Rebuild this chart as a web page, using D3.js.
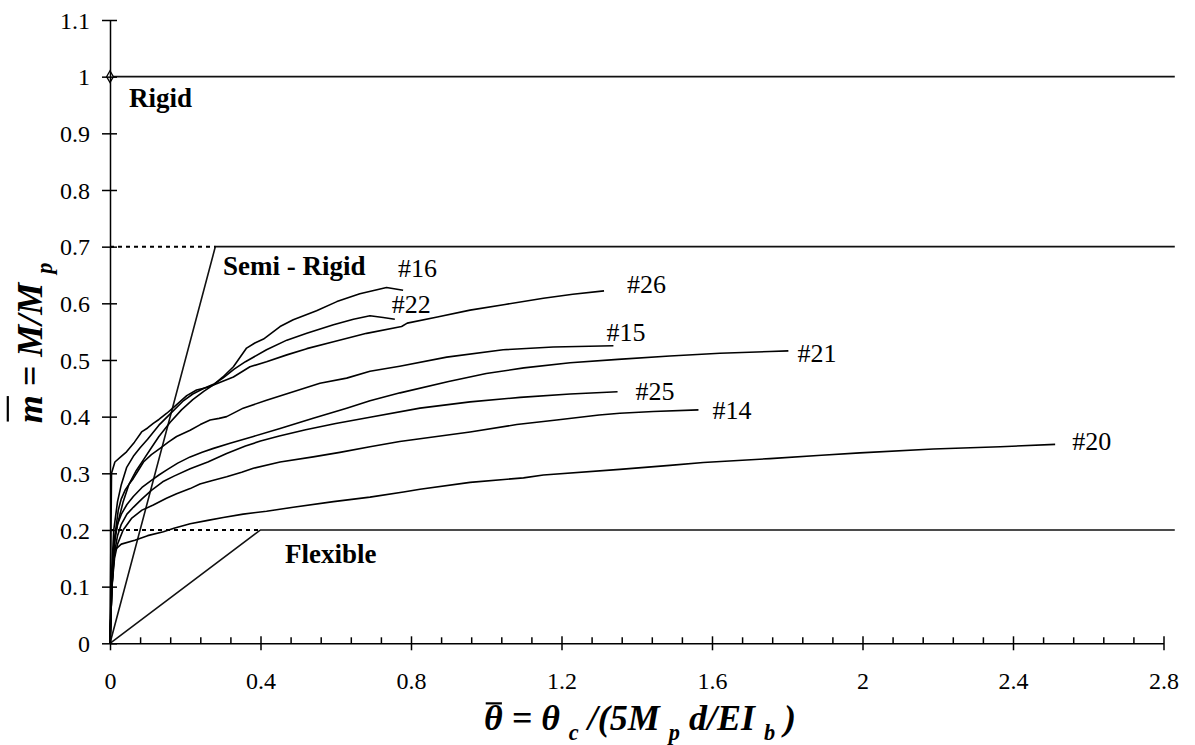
<!DOCTYPE html>
<html>
<head>
<meta charset="utf-8">
<script src="https://cdn.jsdelivr.net/npm/d3@7"></script>
<style>
  html, body { margin: 0; padding: 0; background: #fff; }
  svg { display: block; }
  text { font-family: "Liberation Serif", "Times New Roman", serif; fill: #000; }
</style>
</head>
<body>
<svg id="chart" width="1195" height="745"></svg>
<script>
// Normalised moment-rotation curves of the tested connections.
const xTicks = [0, 0.4, 0.8, 1.2, 1.6, 2, 2.4, 2.8];
const xTickLabels = ["0", "0.4", "0.8", "1.2", "1.6", "2", "2.4", "2.8"];
const xMinorStep = 0.08;
const yTicks = [0, 0.1, 0.2, 0.3, 0.4, 0.5, 0.6, 0.7, 0.8, 0.9, 1, 1.1];
const yTickLabels = ["0", "0.1", "0.2", "0.3", "0.4", "0.5", "0.6", "0.7", "0.8", "0.9", "1", "1.1"];

const seriesNames = ["#16", "#22", "#26", "#15", "#21", "#25", "#14", "#20"];

const theta16 = [0, 0.004, 0.01, 0.02, 0.035, 0.05, 0.07, 0.09, 0.11, 0.13, 0.16, 0.19, 0.22, 0.25, 0.275, 0.30, 0.328, 0.363, 0.385, 0.408, 0.452, 0.487, 0.549, 0.603, 0.664, 0.735, 0.779];
const m16     = [0, 0.10, 0.17, 0.21, 0.25, 0.28, 0.305, 0.325, 0.345, 0.365, 0.39, 0.412, 0.43, 0.445, 0.456, 0.47, 0.488, 0.521, 0.530, 0.537, 0.559, 0.571, 0.587, 0.603, 0.617, 0.628, 0.623];

const theta22 = [0, 0.004, 0.01, 0.02, 0.03, 0.044, 0.062, 0.08, 0.10, 0.13, 0.16, 0.195, 0.22, 0.25, 0.275, 0.30, 0.33, 0.36, 0.416, 0.47, 0.523, 0.594, 0.647, 0.691, 0.726, 0.757];
const m22     = [0, 0.12, 0.20, 0.25, 0.28, 0.31, 0.33, 0.345, 0.36, 0.385, 0.405, 0.428, 0.44, 0.45, 0.457, 0.468, 0.484, 0.497, 0.518, 0.535, 0.547, 0.562, 0.572, 0.578, 0.575, 0.572];

const theta26 = [0, 0.002, 0.004, 0.013, 0.03, 0.044, 0.065, 0.084, 0.10, 0.115, 0.13, 0.151, 0.175, 0.204, 0.23, 0.26, 0.275, 0.328, 0.372, 0.416, 0.47, 0.523, 0.594, 0.682, 0.775, 0.79, 0.87, 0.957, 1.05, 1.152, 1.23, 1.313];
const m26     = [0, 0.15, 0.30, 0.32, 0.33, 0.338, 0.355, 0.373, 0.38, 0.388, 0.395, 0.406, 0.42, 0.437, 0.447, 0.452, 0.456, 0.47, 0.488, 0.497, 0.509, 0.52, 0.532, 0.547, 0.559, 0.565, 0.576, 0.588, 0.598, 0.609, 0.616, 0.622];

const theta15 = [0, 0.005, 0.009, 0.015, 0.022, 0.03, 0.04, 0.05, 0.062, 0.075, 0.089, 0.11, 0.133, 0.155, 0.177, 0.213, 0.24, 0.266, 0.29, 0.31, 0.354, 0.416, 0.487, 0.558, 0.629, 0.691, 0.77, 0.895, 1.045, 1.178, 1.338];
const m15     = [0, 0.10, 0.165, 0.20, 0.235, 0.255, 0.27, 0.28, 0.291, 0.305, 0.32, 0.333, 0.344, 0.355, 0.365, 0.376, 0.386, 0.394, 0.397, 0.40, 0.415, 0.429, 0.444, 0.459, 0.468, 0.48, 0.489, 0.505, 0.518, 0.523, 0.525];

const theta21 = [0, 0.005, 0.013, 0.02, 0.031, 0.045, 0.062, 0.085, 0.111, 0.13, 0.151, 0.18, 0.213, 0.245, 0.275, 0.319, 0.381, 0.452, 0.54, 0.629, 0.691, 0.771, 0.9, 1.0, 1.1, 1.223, 1.35, 1.488, 1.621, 1.754, 1.803];
const m21     = [0, 0.10, 0.188, 0.21, 0.229, 0.245, 0.259, 0.275, 0.288, 0.297, 0.306, 0.318, 0.329, 0.337, 0.344, 0.353, 0.365, 0.379, 0.397, 0.415, 0.428, 0.442, 0.462, 0.476, 0.486, 0.495, 0.501, 0.507, 0.512, 0.515, 0.516];

const theta25 = [0, 0.005, 0.012, 0.02, 0.03, 0.045, 0.062, 0.085, 0.11, 0.14, 0.17, 0.213, 0.26, 0.31, 0.36, 0.40, 0.45, 0.52, 0.60, 0.691, 0.824, 0.957, 1.09, 1.223, 1.349];
const m25     = [0, 0.10, 0.16, 0.19, 0.21, 0.228, 0.24, 0.255, 0.27, 0.285, 0.295, 0.308, 0.32, 0.335, 0.348, 0.357, 0.366, 0.377, 0.388, 0.399, 0.415, 0.426, 0.434, 0.44, 0.444];

const theta14 = [0, 0.005, 0.012, 0.02, 0.035, 0.058, 0.085, 0.115, 0.15, 0.177, 0.213, 0.239, 0.27, 0.31, 0.35, 0.381, 0.452, 0.54, 0.611, 0.691, 0.77, 0.824, 0.957, 1.081, 1.187, 1.30, 1.355, 1.444, 1.564];
const m14     = [0, 0.10, 0.15, 0.175, 0.20, 0.221, 0.235, 0.244, 0.256, 0.264, 0.273, 0.281, 0.287, 0.294, 0.302, 0.309, 0.32, 0.329, 0.337, 0.347, 0.356, 0.361, 0.373, 0.386, 0.394, 0.403, 0.406, 0.409, 0.412];

const theta20 = [0, 0.004, 0.008, 0.013, 0.03, 0.066, 0.10, 0.142, 0.17, 0.213, 0.26, 0.301, 0.354, 0.416, 0.487, 0.594, 0.691, 0.78, 0.824, 0.957, 1.099, 1.152, 1.355, 1.488, 1.577, 1.754, 1.891, 1.993, 2.188, 2.366, 2.512];
const m20     = [0, 0.08, 0.13, 0.165, 0.175, 0.182, 0.19, 0.197, 0.203, 0.211, 0.217, 0.222, 0.228, 0.233, 0.24, 0.25, 0.258, 0.267, 0.272, 0.284, 0.292, 0.297, 0.307, 0.314, 0.319, 0.326, 0.332, 0.336, 0.343, 0.347, 0.351];

const seriesTheta = [theta16, theta22, theta26, theta15, theta21, theta25, theta14, theta20];
const seriesM = [m16, m22, m26, m15, m21, m25, m14, m20];

// Classification boundaries (EC3-type zones)
const rigidM = 1.0;
const semiRigidM = 0.7, semiRigidTheta = 0.28;
const flexibleM = 0.2, flexibleTheta = 0.4;
const boundaryEnd = 2.83;
const zoneNames = ["Rigid", "Semi - Rigid", "Flexible"];

// ---- layout ----
const svg = d3.select("#chart");
const x = d3.scaleLinear().domain([0, 2.8]).range([110, 1163.5]);
const y = d3.scaleLinear().domain([0, 1.1]).range([643.3, 20]);
const serif = '"Liberation Serif", "Times New Roman", serif';
const tickFont = 24, labelFont = 26, zoneFont = 27, titleFont = 36;

// boundary lines
const bnd = svg.append("g").attr("fill", "none");
const solid = (pts, w) => bnd.append("path")
  .attr("d", d3.line().x(d => x(d[0])).y(d => y(d[1]))(pts))
  .attr("stroke", "#111").attr("stroke-width", w);
const dashed = (pts) => bnd.append("path")
  .attr("d", d3.line().x(d => x(d[0])).y(d => y(d[1]))(pts))
  .attr("stroke", "#000").attr("stroke-width", 2).attr("stroke-dasharray", "4,4");

solid([[0, rigidM], [boundaryEnd, rigidM]], 1.8);
solid([[0, 0], [semiRigidTheta, semiRigidM], [boundaryEnd, semiRigidM]], 1.6);
solid([[0, 0], [flexibleTheta, flexibleM], [boundaryEnd, flexibleM]], 1.6);
dashed([[0, semiRigidM], [semiRigidTheta, semiRigidM]]);
dashed([[0, flexibleM], [flexibleTheta, flexibleM]]);

// curves
const line = d3.line().x(d => x(d[0])).y(d => y(d[1]));
const curves = svg.append("g").attr("fill", "none").attr("stroke", "#000")
  .attr("stroke-width", 1.6).attr("stroke-linejoin", "round");
seriesNames.forEach((name, i) => {
  const pts = seriesTheta[i].map((t, j) => [t, seriesM[i][j]]);
  curves.append("path").attr("d", line(pts));
});

// curve end labels, offset from each curve's last point (px)
const labelOffset = {
  "#16": [-5, -13], "#22": [-3, -6], "#26": [23, 2], "#15": [-7, -5],
  "#21": [9, 11], "#25": [18, 8], "#14": [14, 9], "#20": [17, 6]
};
seriesNames.forEach((name, i) => {
  const t = seriesTheta[i], m = seriesM[i];
  const n = t.length - 1;
  svg.append("text")
    .attr("x", x(t[n]) + labelOffset[name][0])
    .attr("y", y(m[n]) + labelOffset[name][1])
    .style("font-size", labelFont + "px")
    .text(name);
});

// zone labels
const zonePos = [[129, 107], [223, 275], [285, 563]];
zoneNames.forEach((z, i) => {
  svg.append("text").attr("x", zonePos[i][0]).attr("y", zonePos[i][1])
    .style("font-size", zoneFont + "px").attr("font-weight", "bold").text(z);
});

// marker at the rigid limit on the axis
svg.append("path")
  .attr("transform", `translate(${x(0)},${y(rigidM)})`)
  .attr("d", d3.symbol(d3.symbolDiamond, 40)())
  .attr("fill", "#fff").attr("stroke", "#000").attr("stroke-width", 1.3);

// ---- axes ----
const xMinor = d3.range(0, 2.8 + 1e-9, xMinorStep)
  .filter(v => !xTicks.some(t => Math.abs(t - v) < 1e-6));

const xAxisMinor = svg.append("g").attr("transform", `translate(0,${y(0)})`)
  .call(d3.axisBottom(x).tickValues(xMinor).tickSize(-6).tickSizeOuter(0).tickFormat(""));
xAxisMinor.select(".domain").remove();

const xAxis = svg.append("g").attr("transform", `translate(0,${y(0)})`)
  .call(d3.axisBottom(x).tickValues(xTicks).tickSizeOuter(0)
    .tickFormat((d, i) => xTickLabels[i]));
xAxis.selectAll(".tick line").attr("y1", -7).attr("y2", 7);
xAxis.selectAll(".tick text").attr("y", 46).attr("dy", 0);

const yAxis = svg.append("g").attr("transform", `translate(${x(0)},0)`)
  .call(d3.axisLeft(y).tickValues(yTicks).tickSizeOuter(0)
    .tickFormat((d, i) => yTickLabels[i]));
yAxis.selectAll(".tick line").attr("x1", -8).attr("x2", 7);
yAxis.selectAll(".tick text").attr("x", -20).attr("dy", "0.34em");

[xAxisMinor, xAxis, yAxis].forEach(a => {
  a.attr("font-family", null).attr("font-size", null);
  a.selectAll("text").attr("fill", "#000")
    .style("font-family", serif).style("font-size", tickFont + "px");
  a.selectAll("line").attr("stroke", "#000").attr("stroke-width", 1.5);
  a.selectAll(".domain").attr("stroke", "#000").attr("stroke-width", 1.5);
});

// ---- axis titles (bold italic, with overbar and subscripts) ----
function richTitle(g, parts, fs, barHeight) {
  const txt = g.append("text").attr("text-anchor", "middle")
    .style("font-size", fs + "px").attr("font-weight", "bold").attr("font-style", "italic");
  const sub = 0.62, shift = 0.28 * fs;
  let lowered = false;
  parts.forEach(p => {
    const ts = txt.append("tspan").text(p.t);
    if (p.sub) {
      ts.style("font-size", (fs * sub) + "px").attr("dy", lowered ? 0 : shift);
      lowered = true;
    } else if (lowered) {
      ts.attr("dy", -shift);
      lowered = false;
    }
  });
  // overbar on the first glyph
  const ext = txt.node().getExtentOfChar(0);
  g.append("line")
    .attr("x1", ext.x + fs * 0.05).attr("x2", ext.x + ext.width - fs * 0.02)
    .attr("y1", -fs * barHeight).attr("y2", -fs * barHeight)
    .attr("stroke", "#000").attr("stroke-width", 2.2);
  return txt;
}

const xTitle = svg.append("g").attr("transform", `translate(640,730)`);
richTitle(xTitle, [
  { t: "\u03B8" }, { t: " = \u03B8 " }, { t: "c", sub: true }, { t: " /(5M " },
  { t: "p", sub: true }, { t: " d/EI " }, { t: "b", sub: true }, { t: " )" }
], titleFont, 0.74);

const yTitle = svg.append("g").attr("transform", `translate(42,343) rotate(-90)`);
richTitle(yTitle, [
  { t: "m" }, { t: " = M/M " }, { t: "p", sub: true }
], titleFont, 0.95);
</script>
</body>
</html>
